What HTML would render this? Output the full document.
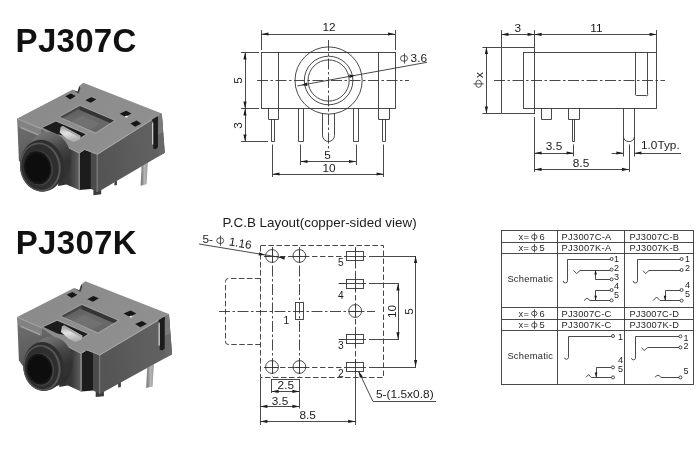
<!DOCTYPE html>
<html>
<head>
<meta charset="utf-8">
<title>PJ307C / PJ307K</title>
<style>
html,body{margin:0;padding:0;background:#fff;}
body{width:700px;height:450px;overflow:hidden;font-family:"Liberation Sans",sans-serif;}
svg{display:block;position:absolute;left:0;top:0;opacity:0.999;}
svg text{font-family:"Liberation Sans",sans-serif;fill:#1c1c1c;}
.ln{stroke:#363636;stroke-width:0.9;fill:none;}
.thin{stroke:#333;stroke-width:0.8;fill:none;}
.cl{stroke:#363636;stroke-width:0.9;fill:none;stroke-dasharray:11 2.5 2.5 2.5;}
.ds{stroke:#363636;stroke-width:0.9;fill:none;stroke-dasharray:5.5 2.5;}
.ar{fill:#1c1c1c;stroke:none;}
.phi ellipse,.phi line{stroke:#363636;stroke-width:0.85;fill:none;}
.ttl{font-weight:bold;font-size:33px;fill:#111;letter-spacing:0.3px;}
.d{font-size:11.8px;}
.t9{font-size:9.3px;letter-spacing:0.4px;fill:#262626;}
.n9{font-size:10.2px;}
.s9{font-size:9px;}
</style>
</head>
<body>
<svg width="700" height="450" viewBox="0 0 700 450">
<rect x="0" y="0" width="700" height="450" fill="#ffffff"/>

<!-- ===== TITLES ===== -->
<text class="ttl" x="15.6" y="52">PJ307C</text>
<text class="ttl" x="15.8" y="254">PJ307K</text>

<!-- PHOTO1_START -->
<!-- ===== PHOTOS ===== -->
<defs>
  <filter id="soft" x="-5%" y="-5%" width="110%" height="110%"><feGaussianBlur stdDeviation="0.6"/></filter>
  <linearGradient id="gTop" x1="0" y1="0" x2="1" y2="0.6"><stop offset="0" stop-color="#898989"/><stop offset="1" stop-color="#909090"/></linearGradient>
  <linearGradient id="gRight" x1="0" y1="0.2" x2="1" y2="0"><stop offset="0" stop-color="#555555"/><stop offset="1" stop-color="#656565"/></linearGradient>
  <linearGradient id="gWin" x1="0" y1="0" x2="0.6" y2="1"><stop offset="0" stop-color="#565656"/><stop offset="0.5" stop-color="#6a6a6a"/><stop offset="1" stop-color="#666666"/></linearGradient>
  <linearGradient id="gCyl" x1="0.35" y1="0" x2="0.75" y2="1"><stop offset="0" stop-color="#787878"/><stop offset="0.16" stop-color="#686868"/><stop offset="0.36" stop-color="#484848"/><stop offset="0.6" stop-color="#333333"/><stop offset="1" stop-color="#2c2c2c"/></linearGradient>
  <linearGradient id="gPin" x1="0" y1="0" x2="1" y2="0"><stop offset="0" stop-color="#6e6e6e"/><stop offset="0.55" stop-color="#b4b4b4"/><stop offset="1" stop-color="#9a9a9a"/></linearGradient>
  <linearGradient id="gSpring" x1="0" y1="0" x2="0.3" y2="1"><stop offset="0" stop-color="#9c9c9c"/><stop offset="0.5" stop-color="#e4e4e4"/><stop offset="1" stop-color="#b0b0b0"/></linearGradient>
  <linearGradient id="gLeft" x1="0" y1="0" x2="0.3" y2="1"><stop offset="0" stop-color="#727272"/><stop offset="1" stop-color="#545454"/></linearGradient>
  <linearGradient id="gRec" x1="0" y1="0" x2="1" y2="0"><stop offset="0" stop-color="#2e2e2e"/><stop offset="0.55" stop-color="#383838"/><stop offset="1" stop-color="#606060"/></linearGradient>
  <radialGradient id="gHole" cx="0.5" cy="0.5" r="0.5"><stop offset="0" stop-color="#0a0a0a"/><stop offset="0.85" stop-color="#101010"/><stop offset="1" stop-color="#1c1c1c"/></radialGradient>
</defs>
<g id="photo1" filter="url(#soft)">
  <!-- pin -->
  <polygon points="141.6,166 147.8,162.6 146.6,184.2 140.6,185.8" fill="url(#gPin)"/>
  <!-- feet -->
  <polygon points="93.4,188 101.2,186 101.2,194.2 93.4,195.2" fill="#3a3a3a"/>
  <polygon points="114.4,179 117,178 117,185 114.4,185.6" fill="#444"/>
  <!-- right face -->
  <polygon points="97.1,154.4 161.8,113.6 164.8,152.7 97.1,192.4" fill="url(#gRight)"/>
  <!-- corner strip -->
  <polygon points="158,116 161.8,113.6 164.8,152.7 158.4,156.5" fill="#686868"/>
  <polygon points="158,116 161.8,113.6 163,132 158.2,135" fill="#7a7a7a"/>
  <!-- slot on right face -->
  <polygon points="153.2,119.4 157.9,116.4 157.9,147.4 155.4,149.2 153.2,148.4" fill="#1e1e1e"/>
  <polygon points="148.4,118.4 153.8,115.4 157.9,116.6 157.9,120 153.2,121.4" fill="#1e1e1e"/>
  <polygon points="152.2,123 153.2,122.6 153.2,144.4 152.2,144.6" fill="#e6e6e6"/>
  <!-- left body face -->
  <polygon points="17.2,118.6 42,128.8 66,145 66,170 24,168 18.9,160.4" fill="url(#gLeft)"/>
  <polygon points="17.2,118.6 41.4,128.8 41,136.4 18.6,127" fill="#828282"/>
  <polygon points="20.4,126.6 39.4,134.4 39.4,136 20.4,128.2" fill="#a0a0a0"/>
  <!-- recessed front & block -->
  <polygon points="62,144 79.2,153 79.2,190 66.4,184.4 58,186" fill="url(#gRec)"/>
  <polygon points="79.4,153 84.7,149.6 91,151.6 91,188.9 79.4,190" fill="#1c1c1c"/>
  <polygon points="90.8,151.6 97.2,154.2 97.2,191.6 90.8,188.9" fill="#4c4c4c"/>
  <polygon points="78.5,153 79.9,153.2 79.9,190.2 78.5,190" fill="#8a8a8a"/>
  <polygon points="96.5,154.4 97.8,154.2 97.8,192.2 96.5,191.8" fill="#7a7a7a"/>
  <!-- top face -->
  <polygon points="17.2,118.5 72.4,89.7 77.5,91.6 79.2,86 83.3,82.8 161.8,113.6 97.1,154.6 84.7,149.7 79.2,153.2 64.8,146 41.2,128.6" fill="url(#gTop)"/>
  <polygon points="72.4,89.7 77.5,91.8 79.4,86.2 80.4,88 78.6,93.4" fill="#3a3a3a"/>
  <!-- top-face light edges -->
  <polyline points="17.2,118.7 41.2,128.9" stroke="#a2a2a2" stroke-width="1" fill="none"/>
  <polyline points="97.1,154.4 152,119.6" stroke="#a6a6a6" stroke-width="1.1" fill="none"/>
  <polyline points="64.8,146 79.2,153 84.7,149.5 97.1,154.2" stroke="#a0a0a0" stroke-width="1" fill="none"/>
  <!-- small square holes -->
  <polygon points="65.3,96.3 70.7,93.5 75.6,96.1 70.2,99.4" fill="#161616"/>
  <polygon points="85.3,100.3 91.1,97.2 96.4,99.2 90.7,102.7" fill="#161616"/>
  <polygon points="119.6,113.8 126.2,110.8 131.4,113.4 125.2,116.8" fill="#141414"/>
  <polygon points="130.4,123.6 136.6,120.6 141.2,123.4 135.2,126.8" fill="#141414"/>
  <ellipse cx="126.4" cy="116.6" rx="1.6" ry="0.9" fill="#e8e8e8"/>
  <!-- window -->
  <polygon points="58.4,117 79.8,104.8 116,120.6 95.7,134" fill="#a0a0a0"/>
  <polygon points="60.2,117 79.8,106 114,120.6 95.7,132.6" fill="url(#gWin)"/>
  <polygon points="79.8,106 114,120.6 110.2,123 79.2,109.8" fill="#343434"/>
  <polygon points="60.2,117 79.8,106 79.6,108.6 62.8,118.1" fill="#454545"/>
  <polygon points="70,122.6 82,115.8 100,123.6 91,129.2" fill="#7c7c7c" opacity="0.45"/>
  <!-- spring slot -->
  <polygon points="41.2,127.6 55.9,120.4 87.9,134.1 79.4,139.6 56,134" fill="#a2a2a2"/>
  <polygon points="42.6,127.8 55.9,121.6 85.8,134.2 78.6,138.8 56,134" fill="#1c1c1c"/>
  <!-- spring -->
  <polygon points="60.6,127.4 62.8,126.1 80.6,135.9 79.8,139.6 73.6,142 67.2,139 59.6,132.4" fill="url(#gSpring)"/>
  <polygon points="60.2,127.2 62.8,125.9 80.6,135.9 78.6,137" fill="#a8a8a8"/>
  <polygon points="20.0,167.0 20.0,163.8 20.4,160.7 21.1,157.7 22.2,154.8 23.5,152.1 25.2,149.7 32.9,139.5 34.9,137.3 37.2,135.4 39.7,133.9 42.3,132.8 45.1,132.1 47.9,131.9 50.8,132.1 53.6,132.8 56.4,133.9 59.0,135.4 61.5,137.3 63.7,139.5 65.7,142.1 67.5,145.0 68.9,148.0 69.9,151.3 70.7,154.6 71.0,158.0 71.0,161.4 70.6,164.8 69.8,168.0 68.7,171.1 67.3,173.9 65.5,176.5 63.5,178.7 61.2,180.6 51.6,188.1 49.3,189.6 46.8,190.6 44.2,191.2 41.6,191.4 38.9,191.2 36.3,190.6 33.7,189.5 31.2,188.1 28.9,186.4 26.8,184.3 25.0,181.8 23.3,179.2 22.0,176.3 21.0,173.3 20.3,170.2" fill="url(#gCyl)"/>
  <ellipse cx="42.0" cy="165.6" rx="21.5" ry="25.9" transform="rotate(-9 42.0 165.6)" fill="#2e2e2e"/>
  <ellipse cx="40.4" cy="167.0" rx="20.3" ry="24.5" transform="rotate(-9 40.4 167.0)" fill="#565656"/>
  <ellipse cx="40.0" cy="167.1" rx="18.6" ry="22.9" transform="rotate(-9 40.1 167.1)" fill="#2e2e2e"/>
  <ellipse cx="38.6" cy="168.0" rx="14.299999999999999" ry="17.599999999999998" transform="rotate(-12 38.6 168.0)" fill="#424242"/>
  <ellipse cx="37.6" cy="167.8" rx="13.6" ry="16.9" transform="rotate(-12 37.6 167.8)" fill="url(#gHole)"/>
</g>
<g id="photo2" filter="url(#soft)">
  <!-- pin -->
  <polygon points="147.2,367.7 153.9,364.3 152.6,386.5 146.2,388.1" fill="url(#gPin)"/>
  <!-- feet -->
  <polygon points="95.7,389.7 103.9,387.7 103.9,396.2 95.7,397.1" fill="#3a3a3a"/>
  <polygon points="118.1,380.7 120.9,379.7 120.9,386.9 118.1,387.5" fill="#444"/>
  <!-- right face -->
  <polygon points="99.5,355.1 168.9,314.0 172.1,354.3 99.5,394.3" fill="url(#gRight)"/>
  <!-- corner strip -->
  <polygon points="164.8,316.4 168.9,314.0 172.1,354.3 165.3,358.1" fill="#686868"/>
  <polygon points="164.8,316.4 168.9,314.0 170.2,333.0 165.1,336.0" fill="#7a7a7a"/>
  <!-- slot on right face -->
  <polygon points="159.7,319.8 164.7,316.8 164.7,348.8 162.1,350.6 159.7,349.7" fill="#1e1e1e"/>
  <polygon points="154.5,318.7 160.3,315.7 164.7,317.0 164.7,320.5 159.7,321.9" fill="#1e1e1e"/>
  <polygon points="158.6,323.5 159.7,323.1 159.7,345.6 158.6,345.8" fill="#e6e6e6"/>
  <!-- left body face -->
  <polygon points="17.2,317.1 42.7,328.0 67.5,345.0 67.5,370.7 24.2,368.1 18.9,360.2" fill="url(#gLeft)"/>
  <polygon points="17.2,317.1 42.1,328.0 41.7,335.8 18.6,325.8" fill="#828282"/>
  <polygon points="20.5,325.4 40.1,333.7 40.1,335.4 20.5,327.1" fill="#a0a0a0"/>
  <!-- recessed front & block -->
  <polygon points="63.3,343.9 81.1,353.4 81.1,391.5 67.9,385.6 59.2,387.1" fill="url(#gRec)"/>
  <polygon points="81.3,353.4 86.7,350.0 93.2,352.1 93.2,390.6 81.3,391.5" fill="#1c1c1c"/>
  <polygon points="93.0,352.1 99.6,354.9 99.6,393.4 93.0,390.6" fill="#4c4c4c"/>
  <polygon points="80.3,353.4 81.8,353.6 81.8,391.7 80.3,391.5" fill="#8a8a8a"/>
  <polygon points="98.9,355.1 100.2,354.9 100.2,394.1 98.9,393.6" fill="#7a7a7a"/>
  <!-- top face -->
  <polygon points="17.2,317.0 74.1,288.1 79.3,290.2 81.1,284.4 85.3,281.2 168.9,314.0 99.5,355.3 86.7,350.1 81.1,353.6 66.2,346.0 41.9,327.8" fill="url(#gTop)"/>
  <polygon points="74.1,288.1 79.3,290.4 81.3,284.6 82.3,286.5 80.4,292.0" fill="#3a3a3a"/>
  <!-- top-face light edges -->
  <polyline points="17.2,317.2 41.9,328.1" stroke="#a2a2a2" stroke-width="1" fill="none"/>
  <polyline points="99.5,355.1 158.4,320.0" stroke="#a6a6a6" stroke-width="1.1" fill="none"/>
  <polyline points="66.2,346.0 81.1,353.4 86.7,349.9 99.5,354.9" stroke="#a0a0a0" stroke-width="1" fill="none"/>
  <!-- small square holes -->
  <polygon points="66.7,294.8 72.3,292.0 77.3,294.8 71.8,298.1" fill="#161616"/>
  <polygon points="87.3,299.2 93.3,296.1 98.8,298.2 92.9,301.8" fill="#161616"/>
  <polygon points="123.6,313.6 130.7,310.6 136.3,313.4 129.6,316.8" fill="#141414"/>
  <polygon points="135.2,323.9 141.9,320.9 146.8,323.8 140.4,327.2" fill="#141414"/>
  <ellipse cx="130.9" cy="316.6" rx="1.6" ry="0.9" fill="#e8e8e8"/>
  <!-- window -->
  <polygon points="59.6,316.0 81.7,303.8 119.8,320.6 98.1,334.1" fill="#a0a0a0"/>
  <polygon points="61.5,316.1 81.7,305.0 117.6,320.5 98.1,332.6" fill="url(#gWin)"/>
  <polygon points="81.7,305.0 117.6,320.5 113.6,323.0 81.1,308.9" fill="#343434"/>
  <polygon points="61.5,316.1 81.7,305.0 81.5,307.7 64.2,317.2" fill="#454545"/>
  <polygon points="71.6,322.0 83.9,315.1 102.6,323.4 93.2,329.1" fill="#7c7c7c" opacity="0.45"/>
  <!-- spring slot -->
  <polygon points="41.9,326.7 57.1,319.5 90.0,334.1 81.3,339.6 57.2,333.5" fill="#a2a2a2"/>
  <polygon points="43.4,327.0 57.1,320.8 87.9,334.1 80.4,338.8 57.2,333.5" fill="#1c1c1c"/>
  <!-- spring -->
  <polygon points="61.9,326.8 64.2,325.5 82.5,335.8 81.7,339.6 75.3,342.0 68.7,338.8 60.9,331.9" fill="url(#gSpring)"/>
  <polygon points="61.5,326.6 64.2,325.3 82.5,335.8 80.4,336.9" fill="#a8a8a8"/>
  <polygon points="23.3,367.7 23.3,364.7 23.7,361.8 24.3,359.0 25.2,356.3 26.5,353.8 28.0,351.5 29.7,349.6 31.6,347.9 41.4,339.7 43.7,338.3 46.2,337.3 48.7,336.7 51.3,336.5 54.0,336.7 56.6,337.3 59.2,338.4 61.6,339.8 63.9,341.6 66.0,343.8 67.8,346.2 69.4,348.9 70.8,351.8 71.8,354.9 72.4,358.1 72.8,361.3 72.8,364.5 72.4,367.7 71.7,370.7 70.7,373.6 69.4,376.3 67.8,378.8 65.9,380.9 63.8,382.7 61.5,384.1 50.2,389.0 48.0,389.9 45.6,390.5 43.2,390.7 40.7,390.5 38.3,389.9 35.9,388.9 33.7,387.6 31.6,385.9 29.6,383.9 27.9,381.7 26.4,379.2 25.2,376.5 24.3,373.6 23.6,370.7" fill="url(#gCyl)"/>
  <ellipse cx="43.6" cy="366.4" rx="19.8" ry="24.4" transform="rotate(-9 43.6 366.4)" fill="#2e2e2e"/>
  <ellipse cx="42.0" cy="367.8" rx="18.6" ry="23.0" transform="rotate(-9 42.0 367.8)" fill="#565656"/>
  <ellipse cx="41.6" cy="367.90000000000003" rx="16.900000000000002" ry="21.4" transform="rotate(-9 41.7 367.90000000000003)" fill="#2e2e2e"/>
  <ellipse cx="40.5" cy="369.4" rx="13.6" ry="16.4" transform="rotate(-12 40.5 369.4)" fill="#424242"/>
  <ellipse cx="39.5" cy="369.2" rx="12.9" ry="15.7" transform="rotate(-12 39.5 369.2)" fill="url(#gHole)"/>
</g>

<!-- PHOTO1_END -->

<!-- ===== FRONT VIEW ===== -->
<g id="front">
  <!-- body -->
  <rect class="ln" x="261.5" y="52.5" width="134" height="56"/>
  <line class="ln" x1="278.5" y1="52.5" x2="278.5" y2="108.5"/>
  <line class="ln" x1="378.5" y1="52.5" x2="378.5" y2="108.5"/>
  <!-- circles -->
  <circle cx="328.6" cy="80.5" r="33.6" fill="#fff" class="ln"/>
  <circle class="ln" cx="328.6" cy="80.5" r="24.3"/>
  <circle class="ln" cx="328.6" cy="80.5" r="20.6"/>
  <!-- centre lines -->
  <line class="cl" x1="257" y1="80.5" x2="409" y2="80.5"/>
  <line class="cl" x1="328.5" y1="40" x2="328.5" y2="149"/>
  <!-- pins -->
  <path class="ln" d="M268.5 108.5L268.5 119.5L278.5 119.5L278.5 108.5M271.5 119L271.5 141.5L274.5 141.5L274.5 119"/>
  <path class="ln" d="M378.5 108.5L378.5 119.5L389.5 119.5L389.5 108.5M382.5 119L382.5 141.5L385.5 141.5L385.5 119"/>
  <path class="ln" d="M298.5 108.5L298.5 141.5L303.5 141.5L303.5 108.5"/>
  <path class="ln" d="M353.5 108.5L353.5 141.5L358.5 141.5L358.5 108.5"/>
  <path class="ln" d="M322.5 113.5L322.5 135.5A5.7 5.7 0 0 0 334.5 135.5L334.5 113.5"/>
  <!-- top dim 12 -->
  <line class="ln" x1="261.5" y1="30" x2="261.5" y2="50"/>
  <line class="ln" x1="395.5" y1="30" x2="395.5" y2="50"/>
  <line class="ln" x1="261.5" y1="34.5" x2="395" y2="34.5"/>
  <path class="ar" d="M261.5 34l7-1.6v3.2z M395 34l-7-1.6v3.2z"/>
  <text class="d" x="329" y="31" text-anchor="middle">12</text>
  <!-- left dims 5 / 3 -->
  <line class="ln" x1="245.5" y1="52.5" x2="245.5" y2="141.5"/>
  <line class="ln" x1="241" y1="52.5" x2="259" y2="52.5"/>
  <line class="ln" x1="241" y1="108.5" x2="259" y2="108.5"/>
  <line class="ln" x1="241" y1="141.5" x2="268" y2="141.5"/>
  <path class="ar" d="M245 52.5l-1.6 7h3.2z M245 108.5l-1.6-7h3.2z M245 108.5l-1.6 7h3.2z M245 141.5l-1.6-7h3.2z"/>
  <text class="d" transform="translate(242 80.5) rotate(-90)" text-anchor="middle">5</text>
  <text class="d" transform="translate(242 125.5) rotate(-90)" text-anchor="middle">3</text>
  <!-- bottom dims 5 / 10 -->
  <line class="ln" x1="300.5" y1="144.5" x2="300.5" y2="165"/>
  <line class="ln" x1="356.5" y1="144.5" x2="356.5" y2="165"/>
  <line class="ln" x1="300.5" y1="161.5" x2="356" y2="161.5"/>
  <path class="ar" d="M300.5 161.5l7-1.6v3.2z M356 161.5l-7-1.6v3.2z"/>
  <text class="d" x="327.6" y="159.4" text-anchor="middle">5</text>
  <line class="ln" x1="272.5" y1="144.5" x2="272.5" y2="177"/>
  <line class="ln" x1="383.5" y1="144.5" x2="383.5" y2="177"/>
  <line class="ln" x1="272.5" y1="174.5" x2="383.6" y2="174.5"/>
  <path class="ar" d="M272.5 174l7-1.6v3.2z M383.6 174l-7-1.6v3.2z"/>
  <text class="d" x="329" y="172.2" text-anchor="middle">10</text>
  <!-- diameter leader -->
  <line class="ln" x1="297.3" y1="85.9" x2="427" y2="62.3"/>
  <path class="ar" d="M301.8 85.1l5-2.5 0.6 3.3z M354.8 75.4l-5 2.5-0.6-3.3z"/>
  <g class="phi"><ellipse cx="404" cy="58.4" rx="3.6" ry="2.9"/><line x1="404.5" y1="53.4" x2="404.5" y2="63.6"/></g><text class="d" x="410.6" y="61.6">3.6</text>
</g>


<!-- ===== SIDE VIEW ===== -->
<g id="side">
  <!-- barrel -->
  <path class="ln" d="M534.6 47.5L501.5 47.5L501.5 113.5L534.6 113.5"/>
  <!-- body -->
  <rect class="ln" x="523.5" y="52.5" width="133" height="56" fill="none"/>
  <line class="ln" x1="534.5" y1="30" x2="534.5" y2="114"/>
  <line class="ln" x1="534.5" y1="117" x2="534.5" y2="172"/>
  <!-- slot -->
  <path class="ln" d="M635.5 52.5L635.5 94A1 1 0 0 0 636.6 95.5L646 95.5A1 1 0 0 0 647.5 94L647.5 52.5"/>
  <!-- centre line -->
  <line class="cl" x1="494" y1="80.5" x2="665" y2="80.5"/>
  <!-- tabs and pins -->
  <path class="ln" d="M541.5 108.5L541.5 119.5L551.5 119.5L551.5 108.5"/>
  <path class="ln" d="M568.5 108.5L568.5 119.5L579.5 119.5L579.5 108.5M572.5 119.4L572.5 141.5L574.5 141.5L574.5 119.4"/>
  <path class="ln" d="M623.5 108.5L623.5 156.5M634.5 108.5L634.5 156.5M623.4 137A5.6 5.6 0 0 0 634.4 137"/>
  <!-- top dims -->
  <line class="ln" x1="501.5" y1="30" x2="501.5" y2="47"/>
  <line class="ln" x1="656.5" y1="30" x2="656.5" y2="52.5"/>
  <line class="ln" x1="501.4" y1="34.5" x2="656.6" y2="34.5"/>
  <path class="ar" d="M501.4 34.4l7-1.6v3.2z M534.6 34.4l-7-1.6v3.2z M534.6 34.4l7-1.6v3.2z M656.6 34.4l-7-1.6v3.2z"/>
  <text class="d" x="517.8" y="31.6" text-anchor="middle">3</text>
  <text class="d" x="596.4" y="31.6" text-anchor="middle">11</text>
  <!-- phi x dim -->
  <line class="ln" x1="486.5" y1="47" x2="486.5" y2="113.6"/>
  <line class="ln" x1="482.4" y1="47.5" x2="501.4" y2="47.5"/>
  <line class="ln" x1="482.4" y1="113.5" x2="501.4" y2="113.5"/>
  <path class="ar" d="M486.4 47l-1.6 7h3.2z M486.4 113.6l-1.6-7h3.2z"/>
  <g transform="translate(482.6 79.4) rotate(-90)"><g class="phi"><ellipse cx="-4.4" cy="-4" rx="3.6" ry="2.9"/><line x1="-4.5" y1="-9.2" x2="-4.5" y2="1.2"/></g><text class="d" x="1.4" y="0">x</text></g>
  <!-- 3.5 -->
  <line class="ln" x1="573.5" y1="144.4" x2="573.5" y2="156.4"/>
  <line class="ln" x1="534.6" y1="153.5" x2="573.6" y2="153.5"/>
  <path class="ar" d="M534.6 153l7-1.6v3.2z M573.6 153l-7-1.6v3.2z"/>
  <text class="d" x="554" y="150.2" text-anchor="middle">3.5</text>
  <!-- 8.5 -->
  <line class="ln" x1="629.5" y1="144.4" x2="629.5" y2="172"/>
  <line class="ln" x1="534.6" y1="169.5" x2="629" y2="169.5"/>
  <path class="ar" d="M534.6 169.4l7-1.6v3.2z M629 169.4l-7-1.6v3.2z"/>
  <text class="d" x="581" y="166.8" text-anchor="middle">8.5</text>
  <!-- 1.0 Typ -->
  <line class="ln" x1="611.6" y1="153.5" x2="623.4" y2="153.5"/>
  <line class="ln" x1="634.4" y1="153.5" x2="681" y2="153.5"/>
  <path class="ar" d="M623.4 153l-7-1.6v3.2z M634.4 153l7-1.6v3.2z"/>
  <text class="d" x="641" y="149">1.0Typ.</text>
</g>


<!-- ===== PCB LAYOUT ===== -->
<g id="pcb">
  <text x="222.6" y="226.6" font-size="12.6" textLength="194" lengthAdjust="spacingAndGlyphs">P.C.B Layout(copper-sided view)</text>
  <!-- dashed outlines -->
  <rect class="ds" x="260.5" y="245.5" width="123" height="132"/>
  <path class="ds" d="M260.4 278.5L228 278.5A3 3 0 0 0 225.5 281.6L225.5 341A3 3 0 0 0 228 344.5L260.4 344.5"/>
  <!-- centre / grid lines -->
  <line class="cl" x1="219" y1="311.5" x2="375" y2="311.5"/>
  <line class="ds" x1="264" y1="256.5" x2="346" y2="256.5" stroke-dasharray="7 3"/>
  <line class="ds" x1="264" y1="367.5" x2="346" y2="367.5"/>
  <line class="cl" x1="272.5" y1="247" x2="272.5" y2="377" stroke-dasharray="9 2.5 2.5 2.5"/>
  <line class="cl" x1="299.5" y1="247" x2="299.5" y2="377" stroke-dasharray="9 2.5 2.5 2.5"/>
  <line class="ds" x1="355.5" y1="247" x2="355.5" y2="378"/>
  <line class="ln" x1="355.5" y1="378" x2="355.5" y2="425"/>
  <!-- holes -->
  <circle class="ln" cx="272" cy="256" r="6.4"/><circle class="ln" cx="299.4" cy="256" r="6.4"/><circle class="ln" cx="272" cy="367" r="6.4"/><circle class="ln" cx="299.4" cy="367" r="6.4"/><circle class="ln" cx="355.2" cy="311" r="6.4"/>
  <!-- pads -->
  <rect class="ln" x="346.5" y="251.5" width="17" height="9"/><rect class="ln" x="346.5" y="279.5" width="17" height="9"/><rect class="ln" x="346.5" y="334.5" width="17" height="9"/><rect class="ln" x="346.5" y="362.5" width="17" height="9"/>
  <rect class="ln" x="295.5" y="302.5" width="8" height="17"/>
  <line class="ln" x1="338.6" y1="283.5" x2="366" y2="283.5"/><line class="ln" x1="338.6" y1="339.5" x2="366" y2="339.5"/><line class="ln" x1="355.5" y1="248.5" x2="355.5" y2="263.5"/><line class="ln" x1="355.5" y1="276.0" x2="355.5" y2="291.0"/><line class="ln" x1="355.5" y1="331.8" x2="355.5" y2="346.8"/><line class="ln" x1="355.5" y1="359.5" x2="355.5" y2="374.5"/><line class="ln" x1="346.4" y1="256.5" x2="366" y2="256.5"/><line class="ln" x1="346.4" y1="367.5" x2="366" y2="367.5"/><path class="ln" d="M265.6 256.5L278.4 256.5M272.5 249.6L272.5 262.4"/><path class="ln" d="M293 256.5L305.8 256.5M299.5 249.6L299.5 262.4"/><path class="ln" d="M265.6 367.5L278.4 367.5M272.5 360.6L272.5 373.4"/><path class="ln" d="M293 367.5L305.8 367.5M299.5 360.6L299.5 373.4"/><path class="ln" d="M348.8 311.5L361.6 311.5M355.5 304.6L355.5 317.4"/>
  <!-- pad labels -->
  <text class="n9" x="283.6" y="324.4">1</text>
  <text class="n9" x="338" y="377">2</text>
  <text class="n9" x="338" y="348.6">3</text>
  <text class="n9" x="338" y="299.2">4</text>
  <text class="n9" x="338" y="265.6">5</text>
  <!-- right leaders -->
  <line class="ln" x1="369" y1="256.5" x2="416" y2="256.5"/>
  <line class="ln" x1="369" y1="367.5" x2="416" y2="367.5"/>
  <line class="ln" x1="339" y1="283.5" x2="345" y2="283.5"/>
  <line class="ln" x1="369" y1="283.5" x2="399" y2="283.5"/>
  <line class="ln" x1="339" y1="339.5" x2="345" y2="339.5"/>
  <line class="ln" x1="369" y1="339.5" x2="399" y2="339.5"/>
  <line class="ln" x1="398.5" y1="283.5" x2="398.5" y2="339.3"/>
  <line class="ln" x1="415.5" y1="256" x2="415.5" y2="367"/>
  <path class="ar" d="M398 283.5l-1.6 7h3.2z M398 339.3l-1.6-7h3.2z M415.6 256l-1.6 7h3.2z M415.6 367l-1.6-7h3.2z"/>
  <text class="d" transform="translate(395.6 311.5) rotate(-90)" text-anchor="middle">10</text>
  <text class="d" transform="translate(412.6 311.5) rotate(-90)" text-anchor="middle">5</text>
  <!-- hole leader -->
  <line class="ln" x1="199" y1="244" x2="284" y2="258"/>
  <path class="ar" d="M265.2 254.9l-6-2.6-0.5 3.1z M278.4 257.1l6 2.6 0.5-3.1z"/>
  <text class="d" x="202.4" y="243.4">5-</text><g class="phi"><ellipse cx="220.2" cy="240.6" rx="3.5" ry="2.9"/><line x1="220.5" y1="235.6" x2="220.5" y2="245.8"/></g><text class="d" transform="translate(228.4 245.3) rotate(9.4)">1.16</text>
  <!-- pad leader -->
  <path class="ln" d="M358.4 371L373 401.5L436 401.5"/>
  <path class="ar" d="M358.4 371l1.5 6.8 2.9-1.4z"/>
  <text class="d" x="376" y="397.6" textLength="57.6" lengthAdjust="spacingAndGlyphs">5-(1.5x0.8)</text>
  <!-- bottom dims -->
  <line class="ln" x1="271.5" y1="379" x2="271.5" y2="393"/>
  <line class="ln" x1="299.5" y1="379" x2="299.5" y2="408.5"/>
  <line class="ln" x1="271.6" y1="379.5" x2="299.4" y2="379.5"/>
  <line class="ln" x1="271.6" y1="391.5" x2="299.4" y2="391.5"/>
  <path class="ar" d="M271.6 391.4l7-1.6v3.2z M299.4 391.4l-7-1.6v3.2z"/>
  <text class="d" x="285.8" y="389.2" text-anchor="middle">2.5</text>
  <line class="ln" x1="260.5" y1="378" x2="260.5" y2="425"/>
  <line class="ln" x1="260.4" y1="406.5" x2="299.4" y2="406.5"/>
  <path class="ar" d="M260.4 406.4l7-1.6v3.2z M299.4 406.4l-7-1.6v3.2z"/>
  <text class="d" x="280" y="404.6" text-anchor="middle">3.5</text>
  <line class="ln" x1="260.4" y1="421.5" x2="355.2" y2="421.5"/>
  <path class="ar" d="M260.4 421.4l7-1.6v3.2z M355.2 421.4l-7-1.6v3.2z"/>
  <text class="d" x="307.6" y="418.6" text-anchor="middle">8.5</text>
</g>


<!-- ===== TABLE ===== -->
<g id="tbl">
  <rect class="ln" x="501.5" y="230.5" width="192" height="154"/>
  <path class="ln" d="M501.6 242.5L693.6 242.5M501.6 253.5L693.6 253.5M501.6 307.5L693.6 307.5M501.6 319.5L693.6 319.5M501.6 330.5L693.6 330.5M557.5 230.6L557.5 384.6M624.5 230.6L624.5 384.6"/>
  <text class="t9" x="518.4" y="240">x=</text><g class="phi"><ellipse cx="534.3" cy="236.9" rx="2.7" ry="2.2"/><line x1="534.5" y1="232.6" x2="534.5" y2="241.0"/></g><text class="t9" x="539.4" y="240">6</text>
  <text class="t9" x="518.4" y="251.4">x=</text><g class="phi"><ellipse cx="534.3" cy="248.3" rx="2.7" ry="2.2"/><line x1="534.5" y1="244.0" x2="534.5" y2="252.4"/></g><text class="t9" x="539.4" y="251.4">5</text>
  <text class="t9" x="518.4" y="316.6">x=</text><g class="phi"><ellipse cx="534.3" cy="313.5" rx="2.7" ry="2.2"/><line x1="534.5" y1="309.2" x2="534.5" y2="317.6"/></g><text class="t9" x="539.4" y="316.6">6</text>
  <text class="t9" x="518.4" y="328.2">x=</text><g class="phi"><ellipse cx="534.3" cy="325.1" rx="2.7" ry="2.2"/><line x1="534.5" y1="320.8" x2="534.5" y2="329.2"/></g><text class="t9" x="539.4" y="328.2">5</text>
  <text class="t9" x="561.6" y="240" textLength="50" lengthAdjust="spacing">PJ3007C-A</text>
  <text class="t9" x="561.6" y="251.4" textLength="50" lengthAdjust="spacing">PJ3007K-A</text>
  <text class="t9" x="629.4" y="240" textLength="50" lengthAdjust="spacing">PJ3007C-B</text>
  <text class="t9" x="629.4" y="251.4" textLength="50" lengthAdjust="spacing">PJ3007K-B</text>
  <text class="t9" x="561.6" y="316.6" textLength="50" lengthAdjust="spacing">PJ3007C-C</text>
  <text class="t9" x="561.6" y="328.2" textLength="50" lengthAdjust="spacing">PJ3007K-C</text>
  <text class="t9" x="629.4" y="316.6" textLength="50" lengthAdjust="spacing">PJ3007C-D</text>
  <text class="t9" x="629.4" y="328.2" textLength="50" lengthAdjust="spacing">PJ3007K-D</text>
  <text class="t9" x="507.4" y="281.6" textLength="46" lengthAdjust="spacing">Schematic</text>
  <text class="t9" x="507.4" y="358.6" textLength="46" lengthAdjust="spacing">Schematic</text>
  <!-- A -->
  <path class="ln" d="M563.2 280.8A2.1 2.1 0 0 0 567.5 280.8L567.5 259.5L610 259.5"/>
  <path class="ln" d="M573.6 270.4L576.6 273.6L580 270.5L610 270.5"/>
  <path class="ln" d="M595.5 270L595.5 279.5L610 279.5"/>
  <path class="ln" d="M610 290.5L595.5 290.5L595.5 300.4"/>
  <path class="ln" d="M584 300.6L587 298L590 300.5L610 300.5"/>
  <path class="ar" d="M595.6 270l-1.3 4.6h2.6z M595.6 300.4l-1.3-4.6h2.6z"/>
  <circle class="ln" cx="611.6" cy="259" r="1.5" fill="#fff"/><circle class="ln" cx="611.6" cy="269.6" r="1.5" fill="#fff"/><circle class="ln" cx="611.6" cy="279.4" r="1.5" fill="#fff"/><circle class="ln" cx="611.6" cy="290" r="1.5" fill="#fff"/><circle class="ln" cx="611.6" cy="300.4" r="1.5" fill="#fff"/>
  <text class="s9" x="614" y="262.4">1</text><text class="s9" x="614" y="271.4">2</text><text class="s9" x="614" y="280.4">3</text><text class="s9" x="614" y="289.4">4</text><text class="s9" x="614" y="298.4">5</text>
  <!-- B -->
  <path class="ln" d="M633.2 280.8A2.1 2.1 0 0 0 637.5 280.8L637.5 259.5L680 259.5"/>
  <path class="ln" d="M643 270.6L645.6 273.6L649 270.5L680 270.5"/>
  <path class="ln" d="M680 290.5L665.5 290.5L665.5 300.4"/>
  <path class="ln" d="M653 300.6L656.6 297L660 300.5L680 300.5"/>
  <path class="ar" d="M665 300.4l-1.3-4.6h2.6z"/>
  <circle class="ln" cx="681.6" cy="259" r="1.5" fill="#fff"/><circle class="ln" cx="681.6" cy="270" r="1.5" fill="#fff"/><circle class="ln" cx="681.6" cy="290" r="1.5" fill="#fff"/><circle class="ln" cx="681.6" cy="300.6" r="1.5" fill="#fff"/>
  <text class="s9" x="685" y="262.4">1</text><text class="s9" x="685" y="271.4">2</text><text class="s9" x="685" y="287.8">4</text><text class="s9" x="685" y="297">5</text>
  <!-- C -->
  <path class="ln" d="M564.4 357.6A2.1 2.1 0 0 0 568.5 357.6L568.5 336.5L611.4 336.5"/>
  <path class="ln" d="M611.4 367.5L596.5 367.5L596.5 377.2"/>
  <path class="ln" d="M586 377.4L588.6 374.6L591.4 377.5L611.4 377.5"/>
  <path class="ar" d="M596 377.2l-1.3-4.6h2.6z"/>
  <circle class="ln" cx="613" cy="336" r="1.5" fill="#fff"/><circle class="ln" cx="613" cy="367.4" r="1.5" fill="#fff"/><circle class="ln" cx="613" cy="377.4" r="1.5" fill="#fff"/>
  <text class="s9" x="618" y="339.6">1</text><text class="s9" x="618" y="363">4</text><text class="s9" x="618" y="372.2">5</text>
  <!-- D -->
  <path class="ln" d="M631.4 358.2A2.1 2.1 0 0 0 635.5 358.2L635.5 336.5L679 336.5"/>
  <path class="ln" d="M641.6 347.6L644.2 350.6L647.6 347.5L679 347.5"/>
  <path class="ln" d="M655 377.4Q658 373 661 377.5L679 377.5"/>
  <circle class="ln" cx="680.4" cy="336.4" r="1.5" fill="#fff"/><circle class="ln" cx="680.4" cy="347.4" r="1.5" fill="#fff"/><circle class="ln" cx="680.4" cy="377.4" r="1.5" fill="#fff"/>
  <text class="s9" x="683.6" y="341">1</text><text class="s9" x="683.6" y="348.8">2</text><text class="s9" x="683.6" y="373.6">5</text>
</g>

</svg>
</body>
</html>
